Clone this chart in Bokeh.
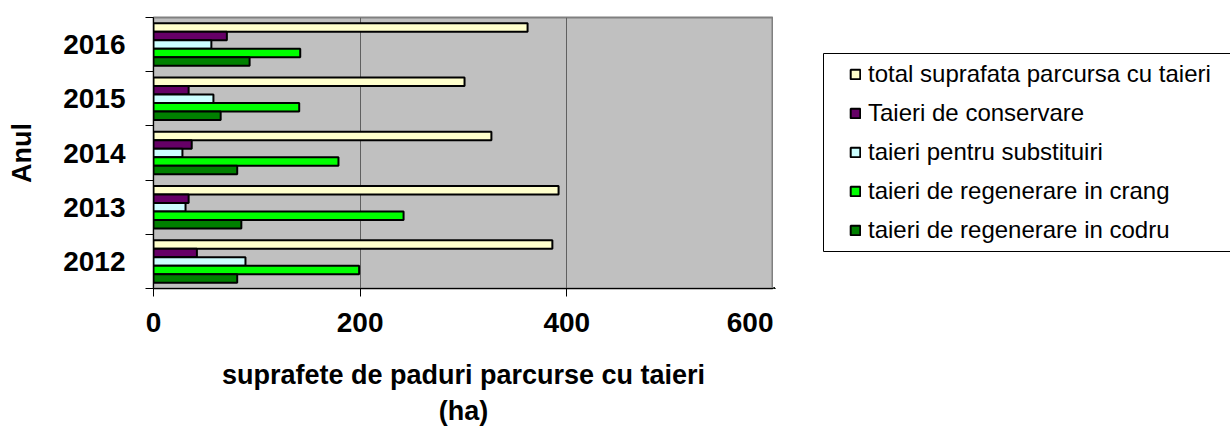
from bokeh.plotting import figure
from bokeh.layouts import row
from bokeh.models import (ColumnDataSource, Legend, LegendItem, FixedTicker, Range1d)
from bokeh.embed import file_html
from bokeh.resources import INLINE

years = ["2012", "2013", "2014", "2015", "2016"]
total = [386, 392, 327, 301, 362]
conservare = [42, 34, 37, 34, 71]
substituiri = [89, 31, 28, 58, 56]
crang = [199, 242, 179, 141, 142]
codru = [81, 85, 81, 65, 93]

series = [
    ("total suprafata parcursa cu taieri", total, "#FFFFCC"),
    ("Taieri de conservare", conservare, "#660066"),
    ("taieri pentru substituiri", substituiri, "#CCFFFF"),
    ("taieri de regenerare in crang", crang, "#00FF00"),
    ("taieri de regenerare in codru", codru, "#008000"),
]

FONT = "Liberation Sans"
BAR_H = 0.157
FRAME_H = 271
TOP, BOTTOM = 17, 138

p = figure(frame_width=620, frame_height=FRAME_H, output_backend="svg", toolbar_location=None,
           x_range=Range1d(0, 600), y_range=Range1d(0, 5),
           min_border_left=153, min_border_top=TOP, min_border_right=0,
           min_border_bottom=BOTTOM)
p.background_fill_color = "#C0C0C0"
p.outline_line_color = "#808080"
p.outline_line_width = 2

for k, (name, vals, color) in enumerate(series):
    off = (2 - k) * BAR_H
    src = ColumnDataSource(dict(y=[i + 0.5 + off for i in range(len(years))], v=vals))
    p.hbar(y="y", right="v", left=0, height=BAR_H, source=src,
           fill_color=color, line_color="black", line_width=2)

# grid
p.ygrid.visible = False
p.xgrid.grid_line_color = "#606060"
p.xgrid.grid_line_width = 1

# x axis
xa = p.xaxis[0]
xa.ticker = FixedTicker(ticks=[0, 200, 400, 600])
xa.major_tick_out = 8
xa.major_tick_in = 0
xa.minor_tick_out = 0
xa.minor_tick_in = 0
xa.axis_line_color = "black"
xa.major_label_standoff = 16
xa.major_label_text_font = FONT
xa.major_label_text_font_style = "bold"
xa.major_label_text_font_size = "28px"
xa.major_label_text_color = "black"
xa.axis_label = "suprafete de paduri parcurse cu taieri\n(ha)"
xa.axis_label_text_font = FONT
xa.axis_label_text_font_style = "bold"
xa.axis_label_text_font_size = "27px"
xa.axis_label_text_color = "black"
xa.axis_label_standoff = 25

# y axis
ya = p.yaxis[0]
ya.ticker = FixedTicker(ticks=[i + 0.5 for i in range(len(years))],
                        minor_ticks=[i for i in range(len(years) + 1)])
ya.major_label_overrides = {i + 0.5: y for i, y in enumerate(years)}
ya.major_tick_out = 0
ya.major_tick_in = 0
ya.minor_tick_out = 8
ya.minor_tick_in = 0
ya.axis_line_color = "black"
ya.major_label_standoff = 20
ya.major_label_text_font = FONT
ya.major_label_text_font_style = "bold"
ya.major_label_text_font_size = "28px"
ya.major_label_text_color = "black"
ya.axis_label = "Anul"
ya.axis_label_text_font = FONT
ya.axis_label_text_font_style = "bold"
ya.axis_label_text_font_size = "27px"
ya.axis_label_text_color = "black"
ya.axis_label_standoff = 23

# legend panel (separate figure so the legend is not clipped by the plot frame)
LW = 457
pl = figure(frame_width=LW, frame_height=FRAME_H, output_backend="svg", toolbar_location=None,
            x_range=Range1d(0, LW), y_range=Range1d(0, FRAME_H),
            min_border_left=0, min_border_right=0, min_border_top=TOP,
            min_border_bottom=BOTTOM, outline_line_color=None)
pl.axis.visible = False
pl.grid.visible = False
pl.background_fill_color = "white"
# legend box frame (screen-pixel coordinates of this panel)
pl.quad(left=[50], right=[LW + 40], top=[FRAME_H - 36], bottom=[FRAME_H - 234],
        fill_color="white", line_color="black", line_width=1)

items = []
for name, vals, color in series:
    # proxy glyph placed outside the visible range, only used for the legend swatch
    r = pl.hbar(y=[-100], right=[1], left=0, height=1, fill_color=color,
                line_color="black", line_width=2)
    items.append(LegendItem(label=name, renderers=[r]))

legend = Legend(items=items, location=(68, 36), margin=0, padding=8,
                spacing=11, glyph_width=12, glyph_height=12, label_standoff=7,
                label_text_font=FONT, label_text_font_size="24px",
                label_text_color="black",
                border_line_alpha=0, background_fill_alpha=0)
pl.add_layout(legend, "center")

layout = row(p, pl)
open("out.html", "w").write(file_html(layout, INLINE))
